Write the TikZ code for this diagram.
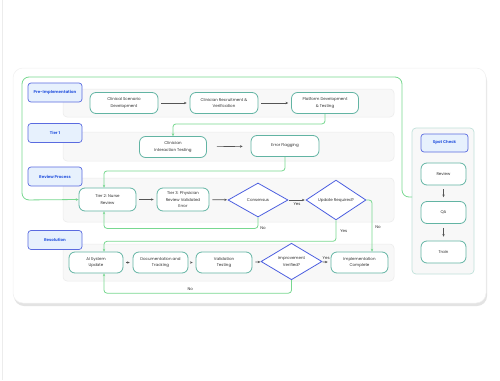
\documentclass[tikz,border=0pt]{standalone}
\usepackage{fontspec}
\setmainfont{Poppins}
\usetikzlibrary{shapes.geometric,arrows.meta,shadows}

\definecolor{tagline}{HTML}{5A6BE0}
\definecolor{tagfill}{HTML}{E7F1FD}
\definecolor{tagtext}{HTML}{2F5BE0}
\definecolor{procline}{HTML}{62B4A3}
\definecolor{decline}{HTML}{4C5FE0}
\definecolor{loopgreen}{HTML}{78D890}
\definecolor{flowgray}{HTML}{555555}
\definecolor{lanefill}{HTML}{F8F8F8}
\definecolor{laneline}{HTML}{EBEBEB}
\definecolor{txtgray}{HTML}{2E2E2E}

\tikzset{
  lanebg/.style={fill=lanefill, draw=laneline, line width=0.5pt, rounded corners=4pt},
  lanetag/.style={draw=tagline, fill=tagfill, line width=0.7pt, rounded corners=3pt,
    minimum width=54pt, minimum height=19pt, text=tagtext,
    font=\fontsize{4}{5}\selectfont\bfseries},
  proc/.style={draw=procline, fill=white, line width=0.8pt, rounded corners=6pt,
    minimum width=68pt, minimum height=21pt, align=center, inner sep=1pt, text=txtgray,
    font=\fontsize{4}{6.5}\selectfont},
  decide/.style={diamond, draw=decline, fill=white, line width=0.8pt, inner sep=0pt,
    minimum width=60pt, minimum height=34pt, align=center, text=txtgray,
    font=\fontsize{4}{6.5}\selectfont},
  flow/.style={draw=flowgray, line width=0.6pt, -{Stealth[length=2.6pt,width=2.4pt]},
    shorten <=3pt, shorten >=3pt},
  loop/.style={draw=loopgreen, line width=0.8pt, rounded corners=3pt,
    -{Stealth[length=2.8pt,width=2.6pt]}},
  note/.style={text=txtgray, font=\fontsize{4}{5}\selectfont, inner sep=1pt},
}

\begin{document}
\begin{tikzpicture}[x=1pt, y=-1pt]
  \useasboundingbox (0,0) rectangle (500,380);
  \fill[white] (0,0) rectangle (500,380);
  \draw[gray!15, line width=0.6pt] (2.5,0) -- (2.5,380);

  % card
  \fill[white, rounded corners=10pt,
    drop shadow={opacity=0.22, shadow xshift=1pt, shadow yshift=-3pt}]
    (13,68) rectangle (486,303);
  \draw[gray!12, line width=0.5pt, rounded corners=10pt] (13,68) rectangle (486,303);

  % lanes
  \draw[lanebg] (63,89) rectangle (394,117);
  \draw[lanebg] (63,132) rectangle (394,161);
  \draw[lanebg] (63,178) rectangle (394,222);
  \draw[lanebg] (63,244) rectangle (394,281);

  \node[lanetag] (tagpre) at (55,92.5) {Pre-Implementation};
  \node[lanetag] (tagtier) at (55,133) {Tier 1};
  \node[lanetag] (tagreview) at (55,176.5) {Review Process};
  \node[lanetag] (tagres) at (55,240) {Resolution};

  % pre-implementation
  \node[proc] (scenario) at (124,103) {Clinical Scenario\\Development};
  \node[proc] (recruit) at (224,103) {Clinician Recruitment \&\\Verification};
  \node[proc, minimum width=67pt] (platform) at (325,103) {Platform Development\\\& Testing};
  \draw[flow] (scenario) -- (recruit);
  \draw[flow] (recruit) -- (platform);

  % tier 1
  \node[proc, minimum width=67pt] (interact) at (173,147) {Clinician\\Interaction Testing};
  \node[proc] (errflag) at (285,146) {Error Flagging};
  \draw[flow, shorten <=10pt, shorten >=8pt] (interact) -- (errflag);

  % review process
  \node[proc, minimum width=57pt, minimum height=23pt] (nurse) at (107.5,199.5) {Tier 2: Nurse\\Review};
  \node[proc, minimum width=52pt, minimum height=23pt] (physician) at (183,199.5) {Tier 3: Physician\\Review Validated\\Error};
  \node[decide] (consensus) at (258,200) {Consensus};
  \node[decide] (update) at (336,200) {Update Required?};
  \draw[flow] (nurse) -- (physician);
  \draw[flow, shorten >=1pt] (physician) -- (consensus);
  \draw[flow, shorten <=1pt, shorten >=1pt] (consensus) -- (update)
    node[note, midway, below=1pt] {Yes};

  % resolution
  \node[proc, minimum width=54pt] (aiupd) at (96,262.5) {AI System\\Update};
  \node[proc, minimum width=55pt] (docs) at (160.5,262.5) {Documentation and\\Tracking};
  \node[proc, minimum width=56pt] (valid) at (224,262.5) {Validation\\Testing};
  \node[decide, minimum width=61pt, minimum height=35pt] (improve) at (291.5,261.5) {Improvement\\Verified?};
  \node[proc, minimum width=57pt] (implement) at (359.5,262.5) {Implementation\\Complete};
  \draw[flow] (aiupd) -- (docs);
  \draw[flow] (docs) -- (valid);
  \draw[flow, shorten >=1pt] (valid) -- (improve);
  \draw[flow, shorten <=1pt] (improve) -- (implement)
    node[note, midway, above=1pt] {Yes};

  % spot check
  \node[draw=procline!40, fill=lanefill, line width=0.7pt, rounded corners=4pt,
    minimum width=62pt, minimum height=146pt] (spotpanel) at (443,201) {};
  \node[lanetag, minimum width=47pt, minimum height=18pt] (tagspot) at (444.5,143) {Spot Check};
  \node[proc, minimum width=45pt, minimum height=22pt] (spotreview) at (443.5,174) {Review};
  \node[proc, minimum width=45pt, minimum height=22pt] (spotqa) at (443.5,212.5) {QA};
  \node[proc, minimum width=45pt, minimum height=22pt] (spottrain) at (443.5,252) {Train};
  \draw[flow, shorten <=4pt, shorten >=4pt] (spotreview) -- (spotqa);
  \draw[flow, shorten <=4pt, shorten >=4pt] (spotqa) -- (spottrain);

  % green connectors
  \coordinate (loopstart) at (412,197);
  \coordinate (jointx) at (104,0);
  \draw[loop, rounded corners=7pt] (loopstart) -- (402,197) -- (402,77) -- (22,77) -- (22,200) -- (nurse.west);
  \draw[loop] (platform.south) -- ++(0,10) -| (interact.north);
  \draw[loop] (errflag.south) -- ++(0,14) -| (nurse.north -| jointx);
  \draw[loop] (consensus.south) -- ++(0,11) node[note, right=1pt] {No} -| (nurse.south -| jointx);
  \draw[loop] (update.south) -- ++(0,21) node[note, midway, right=3pt] {Yes} -| (aiupd.north -| jointx);
  \draw[loop] (update.east) -| ([xshift=12.5pt]implement.north) node[note, pos=0.76, right=2pt] {No};
  \draw[loop] (improve.south) -- ++(0,13) -| (aiupd.south -| jointx) node[note, pos=0.27, above=1pt] {No};
\end{tikzpicture}
\end{document}
